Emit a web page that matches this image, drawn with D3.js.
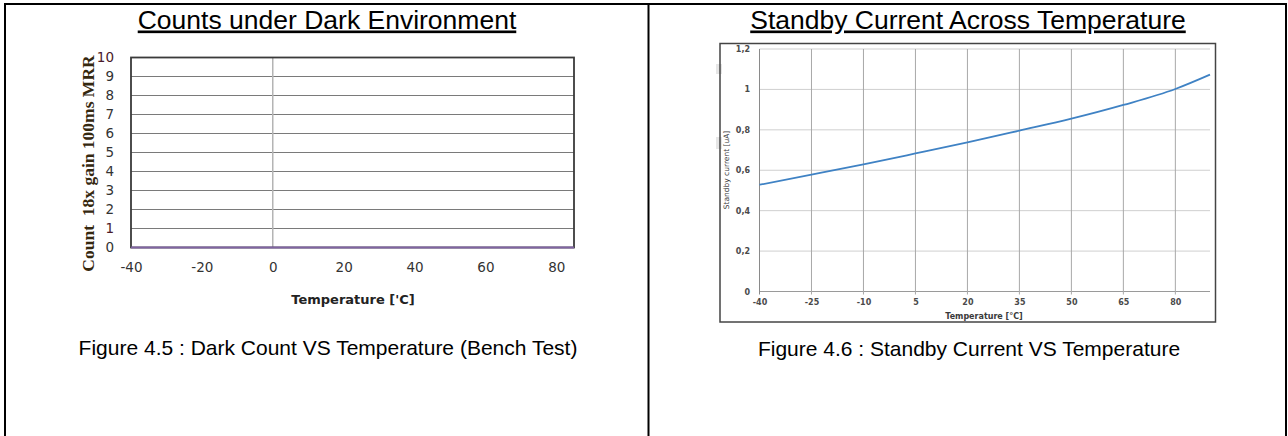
<!DOCTYPE html>
<html><head><meta charset="utf-8">
<script src="https://cdn.jsdelivr.net/npm/d3@7"></script>
<style>html,body{margin:0;padding:0;background:#fff;}svg{display:block;}</style>
</head><body>
<svg id="c" width="1288" height="436"></svg>
<script>
// ---- data ----
const darkTemps = [-40, -20, 0, 20, 40, 60, 80, 85];
const darkCounts = [0, 0, 0, 0, 0, 0, 0, 0];
const darkXTicks = [-40, -20, 0, 20, 40, 60, 80];
const darkYTicks = [0, 1, 2, 3, 4, 5, 6, 7, 8, 9, 10];

const standbyTemps = [-40, -25, -10, 5, 20, 35, 50, 65, 80, 90];
const standbyCurrent = [0.528, 0.578, 0.629, 0.683, 0.738, 0.796, 0.855, 0.923, 1.002, 1.073];
const standbyXTicks = [-40, -25, -10, 5, 20, 35, 50, 65, 80];
const standbyYTicks = [0, 0.2, 0.4, 0.6, 0.8, 1.0, 1.2];
const standbyYLabels = ["0", "0,2", "0,4", "0,6", "0,8", "1", "1,2"];

const titles = ["Counts under Dark Environment", "Standby Current Across Temperature"];
const captions = ["Figure 4.5 : Dark Count VS Temperature (Bench Test)", "Figure 4.6 : Standby Current VS Temperature"];

const svg = d3.select("#c");
svg.append("rect").attr("width", 1288).attr("height", 436).attr("fill", "#fff");

// ---- table borders ----
svg.append("line").attr("x1", 4).attr("x2", 1287).attr("y1", 4).attr("y2", 4).attr("stroke", "#000").attr("stroke-width", 2);
svg.append("line").attr("x1", 5).attr("x2", 5).attr("y1", 3).attr("y2", 436).attr("stroke", "#000").attr("stroke-width", 2);
svg.append("line").attr("x1", 648.5).attr("x2", 648.5).attr("y1", 3).attr("y2", 436).attr("stroke", "#000").attr("stroke-width", 2);
svg.append("line").attr("x1", 1286).attr("x2", 1286).attr("y1", 3).attr("y2", 436).attr("stroke", "#000").attr("stroke-width", 2);

// ---- titles & captions ----
const tcx = [327, 968];
titles.forEach((t, i) => {
  svg.append("text").attr("x", tcx[i]).attr("y", 28.5).attr("text-anchor", "middle")
    .attr("font-family", "Liberation Sans, Arial, sans-serif").attr("font-size", 26.5)
    .attr("text-decoration", "underline").attr("fill", "#000").text(t);
});
captions.forEach((t, i) => {
  svg.append("text").attr("x", [328, 969][i]).attr("y", [354.5, 355.5][i]).attr("text-anchor", "middle")
    .attr("font-family", "Liberation Sans, Arial, sans-serif").attr("font-size", 21)
    .attr("fill", "#000").text(t);
});

// ---- left chart ----
{
  const x = d3.scaleLinear().domain([-40, 85]).range([131, 574]);
  const y = d3.scaleLinear().domain([0, 10]).range([247.5, 57.5]);
  const g = svg.append("g");
  g.selectAll(".hg").data(darkYTicks.slice(1, -1)).enter().append("line")
    .attr("x1", x(-40)).attr("x2", x(85)).attr("y1", d => y(d)).attr("y2", d => y(d))
    .attr("stroke", "#7a7a7a").attr("stroke-width", 1.2);
  g.append("line").attr("x1", x(0)).attr("x2", x(0)).attr("y1", y(10)).attr("y2", y(0))
    .attr("stroke", "#b4b4b4").attr("stroke-width", 1.5);
  g.append("rect").attr("x", x(-40)).attr("y", y(10)).attr("width", x(85) - x(-40)).attr("height", y(0) - y(10))
    .attr("fill", "none").attr("stroke", "#3a3a3a").attr("stroke-width", 1.8);
  const line = d3.line().x((d, i) => x(darkTemps[i])).y(d => y(d));
  g.append("path").datum(darkCounts).attr("d", line).attr("fill", "none")
    .attr("stroke", "#8064a2").attr("stroke-width", 2.2);
  const ya = d3.axisLeft(y).tickValues(darkYTicks).tickSize(0).tickPadding(0).tickFormat(d => String(d));
  const yg = g.append("g").attr("transform", "translate(114,0)").call(ya);
  yg.select(".domain").remove();
  yg.selectAll("text").attr("font-family", "DejaVu Sans, sans-serif").attr("font-size", 13.5)
    .attr("fill", d => (d === 10 || d === 1) ? "#4a1a2a" : "#333");
  const xa = d3.axisBottom(x).tickValues(darkXTicks).tickSize(0).tickPadding(0).tickFormat(d => String(d));
  const xg = g.append("g").attr("transform", "translate(0,262)").call(xa);
  xg.select(".domain").remove();
  xg.selectAll("text").attr("font-family", "DejaVu Sans, sans-serif").attr("font-size", 13.5).attr("fill", "#333");
  g.append("text").attr("x", 353).attr("y", 304).attr("text-anchor", "middle")
    .attr("font-family", "DejaVu Sans, sans-serif").attr("font-weight", "bold").attr("font-size", 13)
    .attr("fill", "#222").text("Temperature ['C]");
  g.append("text").attr("transform", "translate(88,163.5) rotate(-90)").attr("text-anchor", "middle")
    .attr("dominant-baseline", "central").attr("xml:space", "preserve").style("white-space", "pre")
    .attr("font-family", "Liberation Serif, Times New Roman, serif").attr("font-weight", "bold").attr("font-size", 17.5)
    .attr("fill", "#35280f").text("Count  18x gain 100ms MRR");
}

// ---- right chart ----
{
  const x = d3.scaleLinear().domain([-40, 90]).range([759.5, 1210]);
  const y = d3.scaleLinear().domain([0, 1.2]).range([291.5, 49]);
  const g = svg.append("g");
  g.append("rect").attr("x", 716).attr("y", 64).attr("width", 6).attr("height", 10).attr("fill", "#e6e6e6");
  g.append("rect").attr("x", 716).attr("y", 137).attr("width", 6).attr("height", 12).attr("fill", "#e6e6e6");
  g.append("rect").attr("x", 720).attr("y", 43.5).attr("width", 495.5).attr("height", 278.5)
    .attr("fill", "none").attr("stroke", "#444").attr("stroke-width", 1.5);
  g.selectAll(".hg").data(standbyYTicks).enter().append("line")
    .attr("x1", x(-40)).attr("x2", x(90)).attr("y1", d => y(d)).attr("y2", d => y(d))
    .attr("stroke", d => d === 0 ? "#9a9a9a" : "#cfcfcf").attr("stroke-width", 1);
  g.selectAll(".vg").data(standbyXTicks).enter().append("line")
    .attr("x1", d => x(d)).attr("x2", d => x(d)).attr("y1", y(1.2)).attr("y2", y(0) + 3)
    .attr("stroke", d => d === -40 ? "#8a8a8a" : "#a8a8a8").attr("stroke-width", 1);
  const line = d3.line().curve(d3.curveMonotoneX).x((d, i) => x(standbyTemps[i])).y(d => y(d));
  g.append("path").datum(standbyCurrent).attr("d", line).attr("fill", "none")
    .attr("stroke", "#3f82c4").attr("stroke-width", 1.8);
  const ya = d3.axisLeft(y).tickValues(standbyYTicks).tickSize(0).tickPadding(0)
    .tickFormat((d, i) => standbyYLabels[i]);
  const yg = g.append("g").attr("transform", "translate(750,0)").call(ya);
  yg.select(".domain").remove();
  yg.selectAll("text").attr("font-family", "DejaVu Sans, sans-serif").attr("font-weight", "bold")
    .attr("font-size", 8).attr("fill", "#4a4a4a");
  const xa = d3.axisBottom(x).tickValues(standbyXTicks).tickSize(0).tickPadding(0).tickFormat(d => String(d));
  const xg = g.append("g").attr("transform", "translate(0,299)").call(xa);
  xg.select(".domain").remove();
  xg.selectAll("text").attr("font-family", "DejaVu Sans, sans-serif").attr("font-weight", "bold")
    .attr("font-size", 8).attr("fill", "#4a4a4a");
  g.append("text").attr("x", 984).attr("y", 319).attr("text-anchor", "middle")
    .attr("font-family", "DejaVu Sans, sans-serif").attr("font-weight", "bold").attr("font-size", 8)
    .attr("fill", "#3a3a3a").text("Temperature [°C]");
  g.append("text").attr("transform", "translate(726,170) rotate(-90)").attr("text-anchor", "middle")
    .attr("dominant-baseline", "central")
    .attr("font-family", "DejaVu Sans, sans-serif").attr("font-size", 7.5)
    .attr("fill", "#3a3a3a").text("Standby current [uA]");
}
</script>
</body></html>
